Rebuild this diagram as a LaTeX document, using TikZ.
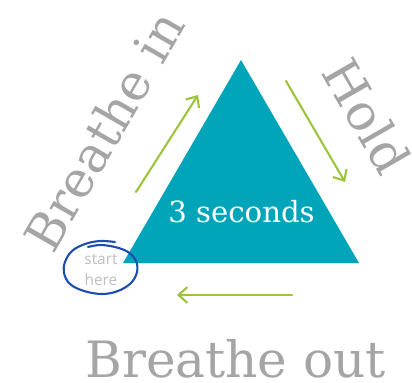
\documentclass[tikz,border=0pt]{standalone}
\usepackage{fontspec}
\usetikzlibrary{arrows.meta, positioning}
\newfontfamily\slabfont{DejaVu Serif}
\newfontfamily\notefont{Open Sans}
\definecolor{breathteal}{RGB}{0,165,185}
\definecolor{breathgreen}{RGB}{156,196,60}
\definecolor{breathgray}{RGB}{165,165,165}
\definecolor{notegray}{RGB}{190,190,190}
\definecolor{loopblue}{RGB}{30,76,176}

\begin{document}
\begin{tikzpicture}[x=0.02cm, y=-0.02cm,
  phase/.style={font=\slabfont\fontsize{28.5pt}{30pt}\selectfont, text=breathgray, inner sep=0pt},
  flow/.style={draw=breathgreen, line width=1.2pt, line cap=round, -{Straight Barb[length=5pt, width=9pt, line width=1.2pt]}},
  note/.style={font=\notefont\fontsize{8.8pt}{12pt}\selectfont, text=notegray, align=center, inner sep=0pt},
]
% Frame
\useasboundingbox (0,0) rectangle (412,382);

% Triangle
\coordinate (apex) at (241,60);
\coordinate (left) at (123,263);
\coordinate (right) at (359,263);
\fill[breathteal] (apex) -- (right) -- (left) -- cycle;
\node[font=\slabfont\fontsize{16.6pt}{18pt}\selectfont, text=white, inner sep=0pt, anchor=base west] (time) at (168,222) {3 seconds};

% Phase labels
\node[phase, rotate=60, anchor=base west] (in) at (53,256) {Breathe in};
\node[phase, rotate=-60, anchor=base west] (hold) at (320,72) {Hold};
\node[phase, anchor=base west] (out) at (85,377) {Breathe out};

% Arrows
\coordinate (in1) at (136,192);
\coordinate (in2) at (198,95);
\coordinate (hold1) at (286,81);
\coordinate (hold2) at (345,182);
\coordinate (out1) at (292,295);
\coordinate (out2) at (177,295);
\draw[flow] (in1) -- (in2);
\draw[flow] (hold1) -- (hold2);
\draw[flow] (out1) -- (out2);

% Start mark
\node[note] (start) at (101,270) {start\\here};
\draw[loopblue, line width=1.2pt, line cap=round] plot[smooth, tension=0.6] coordinates {
  (115,242) (100,241) (85,244) (72,251) (65,262) (64,273) (70,284) (84,291) (102,294) (118,291) (131,283) (137,272) (136,261) (128,252) (115,247) (100,245) (88,247)};
\end{tikzpicture}
\end{document}
